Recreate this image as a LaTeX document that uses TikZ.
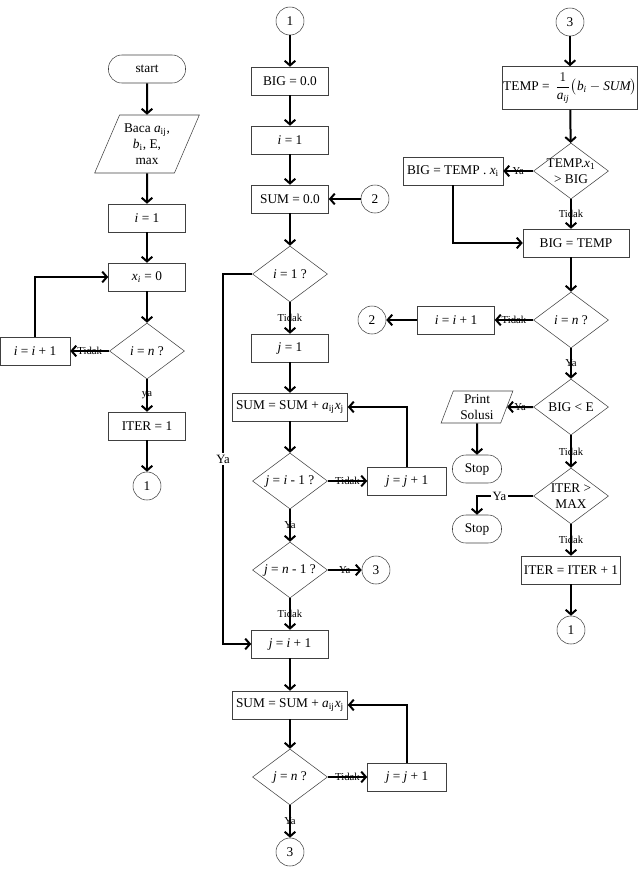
\documentclass[tikz,border=0pt]{standalone}
\usepackage{amsmath}
\usepackage{fontspec}
\setmainfont{Liberation Serif}
\usetikzlibrary{shapes.geometric,arrows.meta}
\tikzset{
  box/.style      = {shape=rectangle, draw=black!75, thin, align=center,
                     minimum width=57.75pt, minimum height=21pt, inner sep=1pt},
  widebox/.style  = {box, minimum width=86.25pt},
  decision/.style = {shape=diamond, draw=black!75, thin, align=center, aspect=1.34,
                     minimum width=56.25pt, minimum height=42pt, inner sep=0pt},
  io/.style       = {trapezium, trapezium left angle=63, trapezium right angle=117,
                     trapezium stretches=true, draw=black!75, thin, align=center, inner sep=0pt},
  term/.style     = {shape=rectangle, rounded corners=10pt, draw=black!75, thin,
                     minimum height=21pt, minimum width=57.75pt},
  conn/.style     = {shape=circle, draw=black!75, thin, minimum size=21pt, inner sep=0pt},
  flow/.style     = {line width=1.5pt, -{Straight Barb[length=3.5pt,width=8pt]}},
  lbl/.style      = {font=\fontsize{8}{9}\selectfont, inner sep=0pt},
  lblw/.style     = {font=\fontsize{9.5}{10}\selectfont, fill=white, inner sep=1pt}
}

\begin{document}
\begin{tikzpicture}[x=0.75pt, y=-0.75pt]
  \useasboundingbox (0,0) rectangle (640,876);

  \node [term] (start) at (147,69) {start};
  \node [io, minimum width=78.75pt, minimum height=43.5pt] (read) at (147,144)
        {Baca \textit{a}\textsubscript{ij},\\ \textit{b}\textsubscript{i}, E,\\ max};
  \node [box] (ione) at (147,218) {\textit{i} = 1};
  \node [box] (xzero) at (147,277) {\textit{x}\textsubscript{\textit{i}} = 0};
  \node [decision] (iisn) at (147,351) {\textit{i} = \textit{n} ?};
  \node [box, minimum width=52.5pt] (iinc) at (35,351) {\textit{i} = \textit{i} + 1};
  \node [box] (iterone) at (147,426) {ITER = 1};
  \node [conn] (ca) at (147,486) {1};

  \node [conn] (cb) at (290,21) {1};
  \node [box] (bigzero) at (290,81) {BIG = 0.0};
  \node [box] (itwo) at (290,140) {\textit{i} = 1};
  \node [box] (sumzero) at (290,199) {SUM = 0.0};
  \node [conn] (cc) at (375,199) {2};
  \node [decision] (iisone) at (290,274) {\textit{i} = 1 ?};
  \node [box] (jone) at (290,348) {\textit{j} = 1};
  \node [widebox] (sumone) at (290,407)
        {SUM = SUM + \textit{a}\textsubscript{ij}\textit{x}\textsubscript{j}};
  \node [decision] (jisim) at (290,481) {\textit{j} = \textit{i} - 1 ?};
  \node [box, minimum width=59.25pt] (jincone) at (407,481) {\textit{j} = \textit{j} + 1};
  \node [decision] (jisnm) at (290,570) {\textit{j} = \textit{n} - 1 ?};
  \node [conn] (cd) at (376,570) {3};
  \node [box] (jip) at (290,644) {\textit{j} = \textit{i} + 1};
  \node [widebox] (sumtwo) at (290,705)
        {SUM = SUM + \textit{a}\textsubscript{ij}\textit{x}\textsubscript{j}};
  \node [decision] (jisn) at (290,777) {\textit{j} = \textit{n} ?};
  \node [box, minimum width=59.25pt] (jinctwo) at (407,777) {\textit{j} = \textit{j} + 1};
  \node [conn] (ce) at (290,852) {3};
  \coordinate (yabend) at (223,274);

  \node [conn] (cf) at (570,22) {3};
  \node [box, minimum width=101.25pt, minimum height=32.25pt, inner sep=0pt] (temp) at (570,88)
        {TEMP = \,$\dfrac{1}{\textit{a}_{\textit{ij}}}\bigl(\textit{b}_{\textit{i}} - \textit{SUM}\bigr)$};
  \node [decision, inner sep=-2pt] (tempbig) at (571,171)
        {TEMP.\textit{x}\textsubscript{1}\\> BIG};
  \node [box, minimum width=75pt] (bigx) at (453,171)
        {BIG = TEMP . \textit{x}\textsubscript{i}};
  \node [box, minimum width=79.5pt] (bigtemp) at (576,243) {BIG = TEMP};
  \node [decision] (iisntwo) at (571,320) {\textit{i} = \textit{n} ?};
  \node [box] (iinctwo) at (456,320) {\textit{i} = \textit{i} + 1};
  \node [conn] (cg) at (372,320) {2};
  \node [decision] (bigle) at (571,407) {BIG < E};
  \node [io, trapezium left angle=71, trapezium right angle=109,
         minimum width=54pt, minimum height=24pt] (print) at (477,407) {Print\\Solusi};
  \node [term, minimum width=36.75pt] (stopa) at (477,469) {Stop};
  \node [decision, inner sep=-1pt] (itermax) at (571,496) {ITER >\\MAX};
  \node [term, minimum width=36.75pt] (stopb) at (477,529) {Stop};
  \node [box, minimum width=74.25pt] (iterinc) at (571,570) {ITER = ITER + 1};
  \node [conn] (ch) at (571,630) {1};

  \draw [flow] (start) -- (read);
  \draw [flow] (read) -- (ione);
  \draw [flow] (ione) -- (xzero);
  \draw [flow] (xzero) -- (iisn);
  \draw [flow] (iisn.west) -- (iinc.east) node [midway, lbl] {Tidak};
  \draw [flow] (iinc.north) |- (xzero.west);
  \draw [flow] (iisn.south) -- (iterone.north) node [midway, lbl] {ya};
  \draw [flow] (iterone) -- (ca);

  \draw [flow] (cb) -- (bigzero);
  \draw [flow] (bigzero) -- (itwo);
  \draw [flow] (itwo) -- (sumzero);
  \draw [flow] (cc) -- (sumzero);
  \draw [flow] (sumzero) -- (iisone);
  \draw [flow] (iisone.south) -- (jone.north) node [midway, lbl] {Tidak};
  \draw [flow] (iisone.west) -- (yabend) |- (jip.west) node [pos=0.25, lblw] {Ya};
  \draw [flow] (jone) -- (sumone);
  \draw [flow] (sumone) -- (jisim);
  \draw [flow] (jisim.east) -- (jincone.west) node [midway, lbl] {Tidak};
  \draw [flow] (jincone.north) |- (sumone.east);
  \draw [flow] (jisim.south) -- (jisnm.north) node [midway, lbl] {Ya};
  \draw [flow] (jisnm.east) -- (cd.west) node [midway, lbl] {Ya};
  \draw [flow] (jisnm.south) -- (jip.north) node [midway, lbl] {Tidak};
  \draw [flow] (jip) -- (sumtwo);
  \draw [flow] (sumtwo) -- (jisn);
  \draw [flow] (jisn.east) -- (jinctwo.west) node [midway, lbl] {Tidak};
  \draw [flow] (jinctwo.north) |- (sumtwo.east);
  \draw [flow] (jisn.south) -- (ce.north) node [midway, lbl] {Ya};

  \draw [flow] (cf) -- (temp);
  \draw [flow] (temp) -- (tempbig);
  \draw [flow] (tempbig.west) -- (bigx.east) node [midway, lbl] {Ya};
  \draw [flow] (tempbig.south) -- (tempbig.south |- bigtemp.north) node [midway, lbl] {Tidak};
  \draw [flow] (bigx.south) |- (bigtemp.west);
  \draw [flow] (bigtemp.south -| iisntwo) -- (iisntwo.north);
  \draw [flow] (iisntwo.west) -- (iinctwo.east) node [midway, lbl] {Tidak};
  \draw [flow] (iinctwo.west) -- (cg.east);
  \draw [flow] (iisntwo.south) -- (bigle.north) node [midway, lbl] {Ya};
  \draw [flow] (bigle.west) -- (print.east) node [midway, lbl] {Ya};
  \draw [flow] (print.south) -- (stopa.north);
  \draw [flow] (bigle.south) -- (itermax.north) node [midway, lbl] {Tidak};
  \draw [flow] (itermax.west) -| (stopb.north) node [pos=0.3, lblw] {Ya};
  \draw [flow] (itermax.south) -- (iterinc.north) node [midway, lbl] {Tidak};
  \draw [flow] (iterinc) -- (ch);
\end{tikzpicture}
\end{document}
